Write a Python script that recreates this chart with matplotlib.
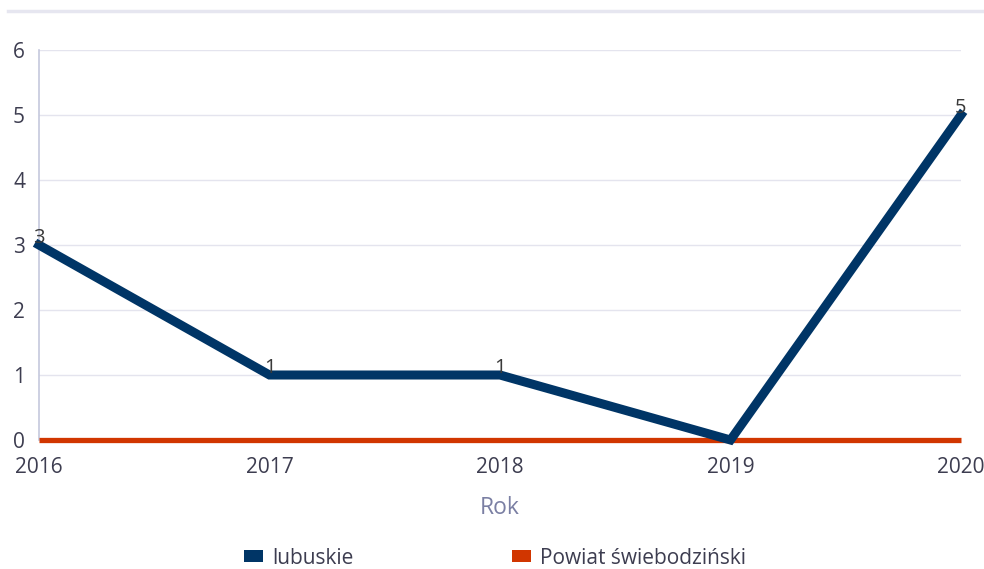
import matplotlib
matplotlib.use("Agg")
import matplotlib.pyplot as plt
from matplotlib.lines import Line2D
from matplotlib.patches import Patch

years = [2016, 2017, 2018, 2019, 2020]
lubuskie = [3, 1, 1, 0, 5]
powiat = [0, 0, 0, 0, 0]
series_names = ["lubuskie", "Powiat świebodziński"]
colors = ["#003566", "#d13600"]
yticks = [0, 1, 2, 3, 4, 5, 6]

plt.rcParams['font.family'] = ['Open Sans', 'DejaVu Sans']

fig = plt.figure(figsize=(9.84, 5.69), dpi=100)
ax = fig.add_axes([39/984, 1-440/569, (961-39)/984, (440-50)/569])

ax.plot(years, powiat, color=colors[1], lw=3.8, solid_capstyle='butt', zorder=3, clip_on=False)
ax.plot(years, lubuskie, color=colors[0], lw=6.5, solid_joinstyle='miter', zorder=4, clip_on=False)

for x, y in zip(years, lubuskie):
    if y == 0:
        continue
    ax.text(x, y - 0.04, str(y), ha='center', va='bottom', fontsize=14.5, color='#3a3a3a', zorder=5)

ax.set_xlim(2016, 2020)
ax.set_ylim(0, 6)
ax.set_yticks(yticks)
ax.set_xticks(years)
ax.set_xticklabels([str(y) for y in years])
ax.grid(axis='y', color='#e4e4ee', lw=1)
ax.grid(axis='x', visible=False)
for s in ['top', 'right', 'bottom']:
    ax.spines[s].set_visible(False)
ax.spines['left'].set_color('#c5c8dd')
ax.spines['left'].set_linewidth(1.2)
ax.tick_params(axis='both', length=0, labelsize=15, labelcolor='#3d3d50')
ax.tick_params(axis='y', pad=10)
ax.tick_params(axis='x', pad=12)
ax.set_axisbelow(True)

ax.set_xlabel("Rok", fontsize=16.5, color='#7a7fa3', labelpad=13)

handles = [Patch(facecolor=c, edgecolor='none') for c in colors]
fig.legend(handles, series_names, loc='center', bbox_to_anchor=(495/984, 1-558/569),
           ncol=2, frameon=False, fontsize=15, handlelength=0.9, handleheight=0.45,
           columnspacing=7.6, handletextpad=0.45, labelcolor='#3d3d50')

fig.add_artist(Line2D([8/984, 1], [1-11/569, 1-11/569], color='#e6e6f0', lw=2.5))

fig.savefig("out.png", dpi=100)
